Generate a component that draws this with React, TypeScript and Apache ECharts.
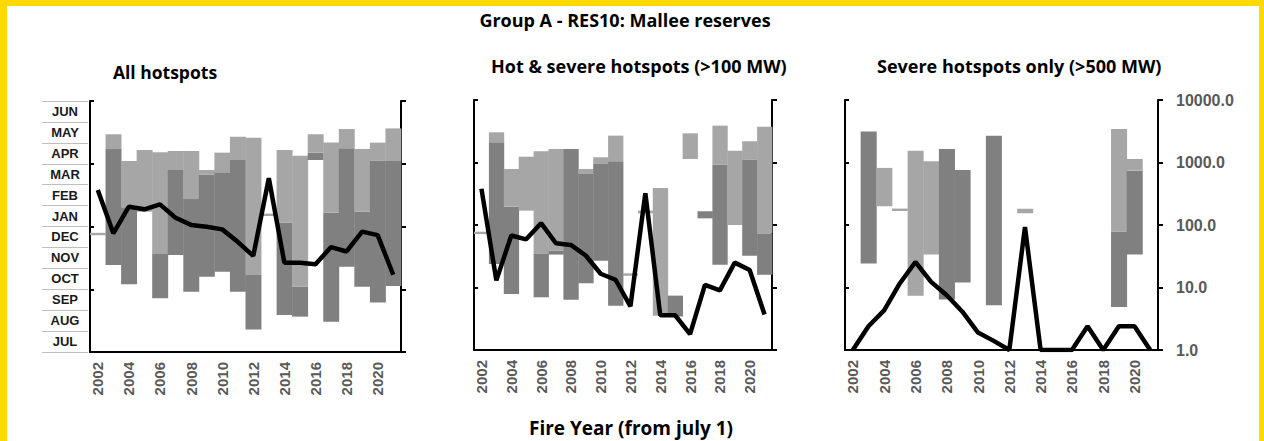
import React, { useEffect, useRef } from "react";
import * as echarts from "echarts";

const years = ["2002","2003","2004","2005","2006","2007","2008","2009","2010","2011","2012","2013","2014","2015","2016","2017","2018","2019","2020","2021"];
const months = ["JUL","AUG","SEP","OCT","NOV","DEC","JAN","FEB","MAR","APR","MAY","JUN"];
const logTickLabels: Record<number, string> = { 1: "1.0", 10: "10.0", 100: "100.0", 1000: "1000.0", 10000: "10000.0" };

const mainTitle = "Group A - RES10: Mallee reserves";
const panelTitles = ["All hotspots", "Hot & severe hotspots (>100 MW)", "Severe hotspots only (>500 MW)"];
const xTitle = "Fire Year (from july 1)";

// Months elapsed since 1 July: lo = bottom of dark range, mid = dark/light boundary, hi = top of light range
const allLo  = [5.64, 4.16, 3.24, 6.71, 2.57, 4.64, 2.88, 3.60, 3.84, 2.88, 1.08, 6.56, 1.77, 1.69, 9.18, 1.45, 4.08, 3.12, 2.37, 3.15];
const allMid = [5.64, 9.70, 6.92, 6.71, 4.72, 8.70, 7.31, 8.49, 8.59, 9.18, 3.68, 6.56, 6.18, 3.12, 9.53, 6.66, 9.74, 6.71, 9.15, 9.13];
const allHi  = [5.64, 10.41, 9.13, 9.66, 9.55, 9.61, 9.61, 8.70, 9.53, 10.29, 10.24, 6.56, 9.66, 9.38, 10.41, 10.02, 10.66, 9.70, 10.01, 10.69];
const allCount = [383, 78, 207, 188, 225, 138, 106, 99, 90, 57, 34, 587, 26.5, 26.5, 25, 47, 40, 83, 73, 17];

const hotLo  = [5.62, 4.13, 2.69, 6.69, 2.53, 4.58, 2.41, 3.21, 4.29, 2.13, 3.62, 6.56, 1.65, 1.61, 9.17, 6.32, 4.09, 6.00, 4.53, 3.61];
const hotMid = [5.62, 9.97, 6.88, 6.69, 4.64, 4.77, 9.65, 8.45, 8.93, 9.06, 3.62, 6.56, 1.65, 2.61, 9.17, 6.66, 8.90, 6.00, 9.14, 5.60];
const hotHi  = [5.62, 10.45, 8.69, 9.28, 9.54, 9.65, 9.65, 8.69, 9.25, 10.29, 3.62, 6.69, 7.78, 2.61, 10.40, 6.66, 10.77, 9.57, 10.02, 10.72];
const hotCount = [380, 13, 68, 59, 107, 51, 48, 32.5, 16.6, 13.3, 5, 323, 3.6, 3.6, 1.8, 11, 9, 25, 19, 3.7];

const sevLo  = [null, 4.15, 6.90, 6.73, 2.60, 4.59, 2.42, 3.24, null, 2.15, null, 6.57, null, null, null, null, null, 2.06, 4.58, null];
const sevMid = [null, 10.49, 6.90, 6.73, 2.60, 4.59, 9.65, 8.64, null, 10.29, null, 6.57, null, null, null, null, null, 5.69, 8.61, null];
const sevHi  = [null, 10.49, 8.74, 6.73, 9.57, 9.06, 9.65, 8.64, null, 10.29, null, 6.78, null, null, null, null, null, 10.61, 9.17, null];
const sevCount = [1, 2.4, 4.3, 11.6, 25.6, 12.3, 7.5, 4.1, 1.9, 1.4, 1, 93, 1, 1, 1, 2.4, 1, 2.4, 2.4, 1];

const DARK = "#808080";
const LIGHT = "#a6a6a6";
const AXIS_GRAY = "#595959";
const FONT = "'Liberation Sans', Arial, sans-serif";
const TFONT = "'Open Sans', Lato, sans-serif";

const grids = [
  { left: 90, top: 101, width: 311, height: 251 },
  { left: 474, top: 100, width: 298, height: 250 },
  { left: 845, top: 100, width: 313, height: 250 },
];

function rangeSeries(xi: number, yi: number, lo: (number | null)[], mid: (number | null)[], hi: (number | null)[]) {
  const data: number[][] = [];
  years.forEach((_, i) => {
    if (lo[i] != null) data.push([i, lo[i] as number, mid[i] as number, hi[i] as number]);
  });
  return {
    type: "custom",
    xAxisIndex: xi,
    yAxisIndex: yi,
    data,
    encode: { x: 0, y: [1, 2, 3] },
    z: 2,
    renderItem: (params: any, api: any) => {
      const i = api.value(0);
      const l = api.value(1);
      const m = api.value(2);
      const h = api.value(3);
      const w = api.size([1, 0])[0];
      const pL = api.coord([i, l]);
      const pM = api.coord([i, m]);
      const pH = api.coord([i, h]);
      const x = pL[0] - w / 2;
      const children: any[] = [];
      if (pL[1] - pM[1] > 0.01) {
        children.push({ type: "rect", shape: { x, y: pM[1], width: w + 0.4, height: pL[1] - pM[1] }, style: { fill: DARK } });
      }
      if (pM[1] - pH[1] > 0.01) {
        children.push({ type: "rect", shape: { x, y: pH[1], width: w + 0.4, height: pM[1] - pH[1] }, style: { fill: LIGHT } });
      }
      if (pL[1] - pH[1] <= 0.01) {
        children.push({ type: "rect", shape: { x, y: pL[1] - 1.2, width: w, height: 2.4 }, style: { fill: LIGHT } });
      }
      return { type: "group", children };
    },
  };
}

export default function App() {
  const ref = useRef<HTMLDivElement>(null);
  useEffect(() => {
    if (!ref.current) return;
    const chart = echarts.init(ref.current, undefined, { renderer: "svg" });

    const xAxes = grids.map((_, gi) => ({
      type: "category",
      gridIndex: gi,
      data: years,
      boundaryGap: true,
      axisLine: { show: true, lineStyle: { color: "#000", width: 2 } },
      axisTick: { show: false },
      axisLabel: {
        rotate: 90,
        interval: 1,
        color: AXIS_GRAY,
        fontSize: 15,
        fontWeight: "bold",
        fontFamily: FONT,
        margin: 10,
      },
      splitLine: { show: false },
    }));

    const yAxes: any[] = [];
    grids.forEach((_, gi) => {
      yAxes.push({
        type: "value",
        gridIndex: gi,
        position: "left",
        min: 0,
        max: 12,
        interval: 3,
        axisLine: { show: true, lineStyle: { color: "#000", width: 2 } },
        axisTick: { show: true, inside: true, length: 4, lineStyle: { color: "#000", width: 2 } },
        axisLabel: { show: false },
        splitLine: { show: false },
      });
      yAxes.push({
        type: "log",
        logBase: 10,
        gridIndex: gi,
        position: "right",
        min: 1,
        max: 10000,
        axisLine: { show: true, lineStyle: { color: "#000", width: 2 } },
        axisTick: { show: true, inside: false, length: 5, lineStyle: { color: "#000", width: 2 } },
        axisLabel: {
          show: gi === 2,
          color: AXIS_GRAY,
          fontSize: 16,
          fontWeight: "bold",
          fontFamily: FONT,
          margin: 18,
          formatter: (v: number) => logTickLabels[Math.round(v)] ?? "",
        },
        splitLine: { show: false },
      });
    });
    // month label table beside panel 1
    yAxes.push({
      type: "category",
      gridIndex: 0,
      position: "left",
      offset: 2,
      data: months,
      boundaryGap: true,
      axisLine: { show: false },
      axisTick: { show: true, length: 46, lineStyle: { color: "#bfbfbf", width: 1 } },
      axisLabel: {
        margin: 23,
        align: "center",
        color: "#1a1a1a",
        fontSize: 13,
        fontWeight: "bold",
        fontFamily: FONT,
      },
      splitLine: { show: false },
    });

    const series: any[] = [
      rangeSeries(0, 0, allLo, allMid, allHi),
      rangeSeries(1, 2, hotLo, hotMid, hotHi),
      rangeSeries(2, 4, sevLo, sevMid, sevHi),
    ];
    const counts = [allCount, hotCount, sevCount];
    counts.forEach((c, gi) => {
      series.push({
        type: "line",
        xAxisIndex: gi,
        yAxisIndex: gi * 2 + 1,
        data: c,
        symbol: "none",
        z: 5,
        lineStyle: { color: "#000", width: 4.5 },
      });
    });

    const titleStyle = (size: number) => ({ fill: "#000", font: `bold ${size}px ${TFONT}` });

    chart.setOption({
      animation: false,
      backgroundColor: "#ffffff",
      grid: grids.map((g) => ({ ...g, containLabel: false })),
      xAxis: xAxes,
      yAxis: yAxes,
      series,
      graphic: [
        { type: "rect", shape: { x: 0, y: 0, width: 7, height: 441 }, style: { fill: "#FFDA00" }, silent: true },
        { type: "rect", shape: { x: 0, y: 0, width: 1264, height: 6 }, style: { fill: "#FFDA00" }, silent: true },
        { type: "rect", shape: { x: 1259, y: 0, width: 5, height: 441 }, style: { fill: "#FFDA00" }, silent: true },
        { type: "text", x: 625, y: 20, style: { ...titleStyle(18), text: mainTitle, textAlign: "center", textVerticalAlign: "middle" } },
        { type: "text", x: 165, y: 72, style: { ...titleStyle(17.5), text: panelTitles[0], textAlign: "center", textVerticalAlign: "middle" } },
        { type: "text", x: 491, y: 66, style: { ...titleStyle(18), text: panelTitles[1], textAlign: "left", textVerticalAlign: "middle" } },
        { type: "text", x: 877, y: 66, style: { ...titleStyle(18), text: panelTitles[2], textAlign: "left", textVerticalAlign: "middle" } },
        { type: "text", x: 631, y: 428, style: { ...titleStyle(19), text: xTitle, textAlign: "center", textVerticalAlign: "middle" } },
      ],
    });
    return () => chart.dispose();
  }, []);

  return (
    <div
      ref={ref}
      style={{ position: "fixed", left: 0, top: 0, width: 1264, height: 441, background: "#fff" }}
    />
  );
}
